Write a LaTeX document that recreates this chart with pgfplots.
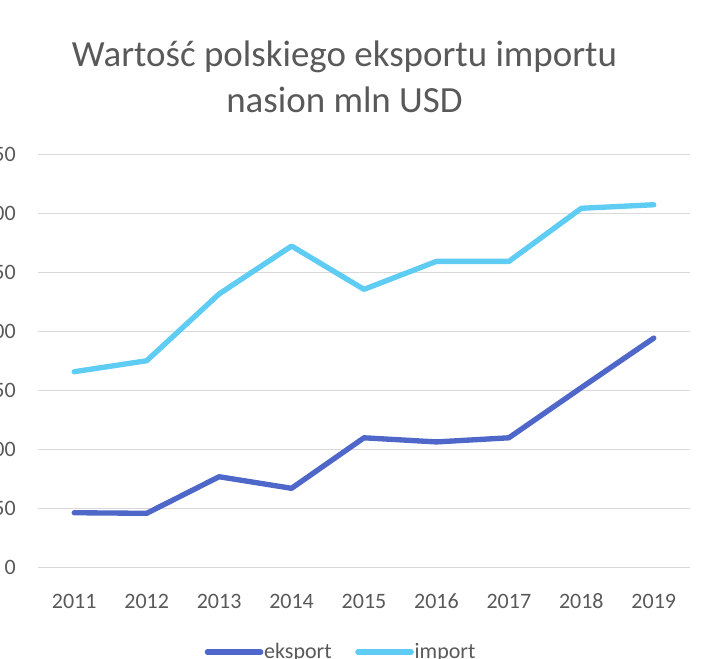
\documentclass[border=0pt]{standalone}
\usepackage{fontspec}
\setmainfont{Carlito}
\usepackage{pgfplots}
\pgfplotsset{compat=1.18}

\definecolor{eksp}{HTML}{4E67C8}
\definecolor{imp}{HTML}{5ECCF3}
\definecolor{txt}{HTML}{595959}
\definecolor{grd}{HTML}{D9D9D9}

% 1 px of the reference = 0.75pt
\begin{document}
\begin{tikzpicture}
\begin{axis}[
  at={(28.5pt,68.25pt)}, anchor=south west,
  scale only axis,
  width=489pt, height=309.75pt,
  xmin=2010.5, xmax=2019.5,
  ymin=0, ymax=350,
  xtick=data,
  xticklabels={2011,2012,2013,2014,2015,2016,2017,2018,2019},
  ytick={0,50,...,350},
  /pgf/number format/assume math mode=true,
  tick label style={font=\fontsize{16.5}{18}\selectfont, text=txt, inner sep=0pt},
  x tick label style={anchor=north, yshift=-20pt},
  y tick label style={anchor=east, xshift=-16.5pt},
  major tick length=0pt,
  axis line style={draw=none},
  ymajorgrids,
  grid style={grd, line width=0.75pt},
  legend style={at={(0.464,-0.206)}, anchor=center, draw=none, fill=none,
    font=\fontsize{16.5}{18}\selectfont, text=txt, inner sep=0pt,
    nodes={inner sep=0.6pt},
    /tikz/every even column/.append style={column sep=17pt}},
  legend columns=2,
  legend image code/.code={\draw[#1, line width=4pt, line cap=round] (0pt,0pt) -- (40pt,0pt);},
]
\addplot[eksp, line width=4pt, line cap=round, line join=round] coordinates {
  (2011,46) (2012,45.5) (2013,76.5) (2014,66.7) (2015,109.5)
  (2016,106) (2017,109.5) (2018,152) (2019,194)
};
\addplot[imp, line width=4pt, line cap=round, line join=round] coordinates {
  (2011,165.5) (2012,174.8) (2013,231.4) (2014,272) (2015,235.3)
  (2016,259) (2017,259) (2018,304) (2019,307)
};
\legend{eksport, import}
\end{axis}
\node[anchor=base, text=txt, font=\fontsize{27.7}{30}\selectfont] at (258.4pt,443.25pt) {Wartość polskiego eksportu importu};
\node[anchor=base, text=txt, font=\fontsize{27.7}{30}\selectfont] at (258.4pt,408.75pt) {nasion mln USD};
\pgfresetboundingbox
\useasboundingbox (0,0) rectangle (543pt,493.5pt);
\end{tikzpicture}
\end{document}
